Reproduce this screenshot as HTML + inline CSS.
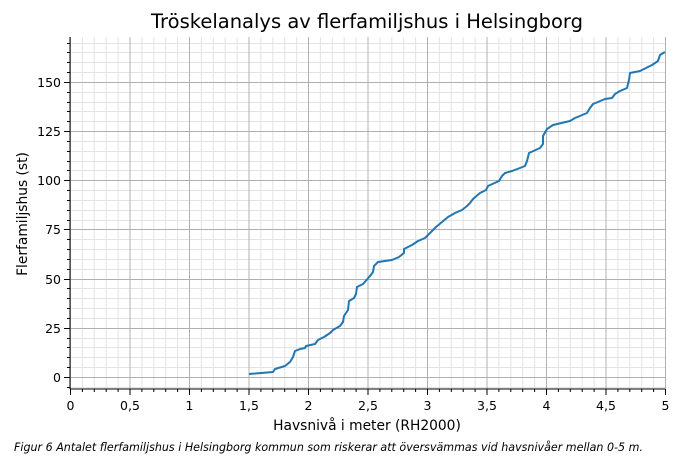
<!DOCTYPE html>
<html><head><meta charset="utf-8"><style>body{margin:0;background:#fff}svg{display:block}text{font-family:"DejaVu Sans",sans-serif;fill:#000}</style></head><body>
<svg width="700" height="459" xmlns="http://www.w3.org/2000/svg">
<g id="minor" stroke="#e3e3e3" stroke-width="1"></g>
<g id="major" stroke="#b0b0b0" stroke-width="1"></g>
<polyline fill="none" stroke="#1f77b4" stroke-width="2" stroke-linejoin="round" points="249,374 273,372 275,369 285,366 290,362 293,357 295,351 300,349 305,348 306,346 315,344 318,340 324,337 330,333 333,330 340,326 343,322 344,316 348,310 349,301 354,298 356,294 357,287 363,284 370,276 373,272 374,266 378,262 392,260 399,257 404,253 404,249 412,245 418,241 425,238 430,233 433,230 436,227 442,222 448,217 455,213 462,210 467,206 470,203 473,199 480,193 486,190 488,186 499,181 502,176 505,173 512,171 520,168 525,166 527,161 529,153 540,148 543,144 543,136 547,129 553,125 570,121 575,118 587,113 590,108 593,104 605,99 612,98 615,94 620,91 627,88 629,80 630,73 640,71 652,65 658,61 660,55 665,52"/>
<line x1="70" y1="37" x2="70" y2="389" stroke="#000" stroke-width="1"/>
<line x1="70" y1="389" x2="665" y2="389" stroke="#000" stroke-width="1"/>
<g id="ticks" stroke="#000"></g>
<g id="labels" font-size="12.5"></g>
<text x="367" y="28" font-size="19.5" text-anchor="middle">Tröskelanalys av flerfamiljshus i Helsingborg</text>
<text x="367" y="430" font-size="13.8" text-anchor="middle">Havsnivå i meter (RH2000)</text>
<text transform="translate(27,214) rotate(-90)" font-size="13.8" text-anchor="middle">Flerfamiljshus (st)</text>
<text x="14" y="451" font-size="11.1" font-style="italic">Figur 6 Antalet flerfamiljshus i Helsingborg kommun som riskerar att översvämmas vid havsnivåer mellan 0-5 m.</text>
<script>
var ns="http://www.w3.org/2000/svg";
function L(g,x1,y1,x2,y2){var l=document.createElementNS(ns,"line");l.setAttribute("x1",x1);l.setAttribute("y1",y1);l.setAttribute("x2",x2);l.setAttribute("y2",y2);document.getElementById(g).appendChild(l);}
function T(x,y,s,a){var t=document.createElementNS(ns,"text");t.setAttribute("x",x);t.setAttribute("y",y);t.setAttribute("text-anchor",a);t.textContent=s;document.getElementById("labels").appendChild(t);}
function X(v){return 70+v*119;} function Y(v){return 377-v*1.967;}
for(var i=0;i<=50;i++){var x=X(i/10)+.5;if(i%5){L("minor",x,37,x,389);L("ticks",x,389,x,392);}else{L("major",x,37,x,389);L("ticks",x,389,x,395);var v=i/10;T(x,410,(v%1?String(v).replace(".",","):String(v)),"middle");}}
for(var j=-5;j<=170;j+=5){var y=Math.round(Y(j))+.5;if(j%25){L("minor",70,y,665,y);L("ticks",67,y,70,y);}else{L("major",70,y,665,y);L("ticks",64,y,70,y);T(61,y+4.5,String(j),"end");}}
</script>
</svg>
</body></html>
